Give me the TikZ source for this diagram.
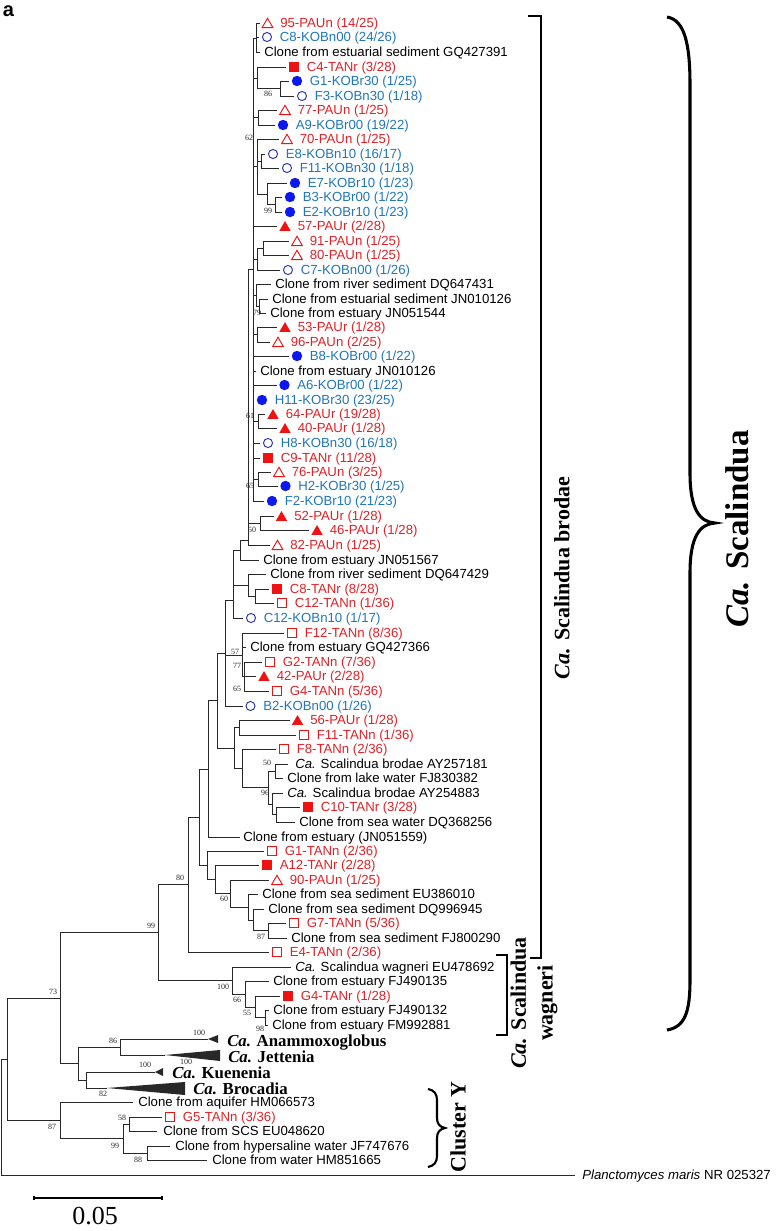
\documentclass[tikz,border=0pt]{standalone}
\usepackage{fontspec}
\setmainfont{Liberation Sans}
\newfontfamily\tms{Liberation Serif}
\usetikzlibrary{shapes.geometric}
\definecolor{tred}{RGB}{226,32,38}
\definecolor{sred}{RGB}{238,18,18}
\definecolor{tblue}{RGB}{32,118,186}
\definecolor{fblue}{RGB}{12,24,238}
\definecolor{oblue}{RGB}{36,46,176}
\definecolor{tline}{RGB}{40,40,40}
\tikzset{
 tree/.style={draw=tline, line width=0.6pt},
 lab/.style={anchor=base west, inner sep=0pt, font=\fontsize{9.9}{11}\selectfont},
 redlab/.style={text=tred},
 bluelab/.style={text=tblue},
 boot/.style={inner sep=0pt, text=tline, font=\tms\fontsize{6}{6}\selectfont},
 otri/.style={regular polygon, regular polygon sides=3, draw=sred, line width=0.7pt, minimum size=9.3pt, inner sep=0pt, yshift=-1.1pt},
 ftri/.style={regular polygon, regular polygon sides=3, fill=sred, minimum size=9.8pt, inner sep=0pt, yshift=-1.2pt},
 osq/.style={rectangle, draw=sred, line width=0.7pt, minimum size=6.4pt, inner sep=0pt},
 fsq/.style={rectangle, fill=sred, minimum size=7.2pt, inner sep=0pt},
 ocirc/.style={circle, draw=oblue, line width=0.7pt, minimum size=6.8pt, inner sep=0pt},
 fcirc/.style={circle, fill=fblue, minimum size=7.8pt, inner sep=0pt},
 genus/.style={anchor=base west, inner sep=0pt, font=\tms\bfseries\fontsize{12.6}{14}\selectfont},
 clab/.style={rotate=90, inner sep=0pt, font=\tms\bfseries\fontsize{16.5}{18}\selectfont},
 brk/.style={draw=black, line width=1.9pt},
}
\newcommand{\symleaf}[6]{%
  \coordinate (#1) at ({#2-8},#3);
  \node[#4] (#1s) at (#2,#3) {};
  \node[lab,#5] (#1t) at ({#2+12.5},{#3+4.7}) {#6};}
\newcommand{\txtleaf}[5]{%
  \coordinate (#1) at (#2,#4);
  \node[lab] (#1t) at (#3,{#4+4.7}) {#5};}
\newcommand{\br}[2]{\foreach \ch in {#2}{\draw[tree] (#1) |- (\ch);}}
\begin{document}
\begin{tikzpicture}[x=0.75pt,y=-0.75pt]
\useasboundingbox (0,0) rectangle (777,1231);
\node[inner sep=0pt, font=\bfseries\fontsize{15}{15}\selectfont] (lbla) at (8.5,11) {a};
% leaves
\symleaf{L1}{267.5}{23}{otri}{redlab}{95-PAUn (14/25)}
\symleaf{L2}{267}{37}{ocirc}{bluelab}{C8-KOBn00 (24/26)}
\txtleaf{L3}{260}{264}{52}{Clone from estuarial sediment GQ427391}
\symleaf{L4}{294}{67}{fsq}{redlab}{C4-TANr (3/28)}
\symleaf{L5}{297}{81}{fcirc}{bluelab}{G1-KOBr30 (1/25)}
\symleaf{L6}{302}{96}{ocirc}{bluelab}{F3-KOBn30 (1/18)}
\symleaf{L7}{285}{110}{otri}{redlab}{77-PAUn (1/25)}
\symleaf{L8}{283}{125}{fcirc}{bluelab}{A9-KOBr00 (19/22)}
\symleaf{L9}{287}{139}{otri}{redlab}{70-PAUn (1/25)}
\symleaf{L10}{273}{154}{ocirc}{bluelab}{E8-KOBn10 (16/17)}
\symleaf{L11}{287}{168}{ocirc}{bluelab}{F11-KOBn30 (1/18)}
\symleaf{L12}{295}{183}{fcirc}{bluelab}{E7-KOBr10 (1/23)}
\symleaf{L13}{290}{197}{fcirc}{bluelab}{B3-KOBr00 (1/22)}
\symleaf{L14}{290}{212}{fcirc}{bluelab}{E2-KOBr10 (1/23)}
\symleaf{L15}{285}{226}{ftri}{redlab}{57-PAUr (2/28)}
\symleaf{L16}{297}{241}{otri}{redlab}{91-PAUn (1/25)}
\symleaf{L17}{297}{255}{otri}{redlab}{80-PAUn (1/25)}
\symleaf{L18}{288}{270}{ocirc}{bluelab}{C7-KOBn00 (1/26)}
\txtleaf{L19}{271}{275}{284}{Clone from river sediment DQ647431}
\txtleaf{L20}{268}{272}{299}{Clone from estuarial sediment JN010126}
\txtleaf{L21}{266}{270}{313}{Clone from estuary JN051544}
\symleaf{L22}{285}{327}{ftri}{redlab}{53-PAUr (1/28)}
\symleaf{L23}{278}{342}{otri}{redlab}{96-PAUn (2/25)}
\symleaf{L24}{297}{356}{fcirc}{bluelab}{B8-KOBr00 (1/22)}
\txtleaf{L25}{256}{260}{371}{Clone from estuary JN010126}
\symleaf{L26}{284.5}{385}{fcirc}{bluelab}{A6-KOBr00 (1/22)}
\symleaf{L27}{262}{400}{fcirc}{bluelab}{H11-KOBr30 (23/25)}
\symleaf{L28}{273}{414}{ftri}{redlab}{64-PAUr (19/28)}
\symleaf{L29}{285}{428}{ftri}{redlab}{40-PAUr (1/28)}
\symleaf{L30}{268}{443}{ocirc}{bluelab}{H8-KOBn30 (16/18)}
\symleaf{L31}{268}{458}{fsq}{redlab}{C9-TANr (11/28)}
\symleaf{L32}{279}{472}{otri}{redlab}{76-PAUn (3/25)}
\symleaf{L33}{285.5}{486}{fcirc}{bluelab}{H2-KOBr30 (1/25)}
\symleaf{L34}{272}{501}{fcirc}{bluelab}{F2-KOBr10 (21/23)}
\symleaf{L35}{281.5}{516}{ftri}{redlab}{52-PAUr (1/28)}
\symleaf{L36}{317}{530}{ftri}{redlab}{46-PAUr (1/28)}
\symleaf{L37}{277.5}{545}{otri}{redlab}{82-PAUn (1/25)}
\txtleaf{L38}{259}{263}{560}{Clone from estuary JN051567}
\txtleaf{L39}{266}{270}{574}{Clone from river sediment DQ647429}
\symleaf{L40}{277}{589}{fsq}{redlab}{C8-TANr (8/28)}
\symleaf{L41}{282}{603}{osq}{redlab}{C12-TANn (1/36)}
\symleaf{L42}{251}{618}{ocirc}{bluelab}{C12-KOBn10 (1/17)}
\symleaf{L43}{292}{633}{osq}{redlab}{F12-TANn (8/36)}
\txtleaf{L44}{246}{250}{647}{Clone from estuary GQ427366}
\symleaf{L45}{270}{662}{osq}{redlab}{G2-TANn (7/36)}
\symleaf{L46}{264}{676}{ftri}{redlab}{42-PAUr (2/28)}
\symleaf{L47}{277}{691}{osq}{redlab}{G4-TANn (5/36)}
\symleaf{L48}{250.5}{706}{ocirc}{bluelab}{B2-KOBn00 (1/26)}
\symleaf{L49}{297.5}{720}{ftri}{redlab}{56-PAUr (1/28)}
\symleaf{L50}{304}{735}{osq}{redlab}{F11-TANn (1/36)}
\symleaf{L51}{284}{749}{osq}{redlab}{F8-TANn (2/36)}
\txtleaf{L52}{288}{295}{764}{\textit{Ca.} Scalindua brodae AY257181}
\txtleaf{L53}{283}{287}{778}{Clone from lake water FJ830382}
\txtleaf{L54}{283}{287}{793}{\textit{Ca.} Scalindua brodae AY254883}
\symleaf{L55}{308}{807}{fsq}{redlab}{C10-TANr (3/28)}
\txtleaf{L56}{295}{299}{822}{Clone from sea water DQ368256}
\txtleaf{L57}{240}{243}{837}{Clone from estuary (JN051559)}
\symleaf{L58}{272}{851}{osq}{redlab}{G1-TANn (2/36)}
\symleaf{L59}{267}{865}{fsq}{redlab}{A12-TANr (2/28)}
\symleaf{L60}{277}{880}{otri}{redlab}{90-PAUn (1/25)}
\txtleaf{L61}{258}{262}{894}{Clone from sea sediment EU386010}
\txtleaf{L62}{264}{268}{909}{Clone from sea sediment DQ996945}
\symleaf{L63}{294}{923}{osq}{redlab}{G7-TANn (5/36)}
\txtleaf{L64}{287}{291}{938}{Clone from sea sediment FJ800290}
\symleaf{L65}{277}{952}{osq}{redlab}{E4-TANn (2/36)}
\txtleaf{L66}{291}{295}{967}{\textit{Ca.} Scalindua wagneri EU478692}
\txtleaf{L67}{269}{273}{981}{Clone from estuary FJ490135}
\symleaf{L68}{288}{996}{fsq}{redlab}{G4-TANr (1/28)}
\txtleaf{L69}{269}{273}{1010}{Clone from estuary FJ490132}
\txtleaf{L70}{268}{272}{1025}{Clone from estuary FM992881}
\txtleaf{Y1}{133}{138}{1102}{Clone from aquifer HM066573}
\symleaf{Y2}{170}{1117}{osq}{redlab}{G5-TANn (3/36)}
\txtleaf{Y3}{157}{163}{1131}{Clone from SCS EU048620}
\txtleaf{Y4}{170}{175}{1146}{Clone from hypersaline water JF747676}
\txtleaf{Y5}{207}{212}{1160}{Clone from water HM851665}
\txtleaf{PM}{575}{582}{1175}{\textit{Planctomyces maris} NR 025327}
% collapsed genera
\coordinate (G1) at (208,1039);
\coordinate (G2) at (165,1055);
\coordinate (G3) at (155,1072);
\coordinate (G4) at (107,1088);
\fill[tline] (G1) -- (218,1035) -- (218,1043) -- cycle;
\fill[tline] (G2) -- (220,1050) -- (220,1061) -- cycle;
\fill[tline] (G3) -- (163,1068) -- (163,1076) -- cycle;
\fill[tline] (G4) -- (185,1082) -- (185,1095) -- cycle;
\node[genus] (G1t) at (227,1046) {\textit{Ca.} Anammoxoglobus};
\node[genus] (G2t) at (228,1062.5) {\textit{Ca.} Jettenia};
\node[genus] (G3t) at (172,1078.5) {\textit{Ca.} Kuenenia};
\node[genus] (G4t) at (193,1094.5) {\textit{Ca.} Brocadia};
% internal nodes
\coordinate (s1) at (256,38);
\coordinate (s3) at (280,88.5);
\coordinate (s2) at (257,78);
\coordinate (s4) at (258,117.5);
\coordinate (s8) at (275,204.5);
\coordinate (s7) at (267,194);
\coordinate (s6) at (261,161);
\coordinate (s5) at (257,166);
\coordinate (s10) at (263,248);
\coordinate (s9) at (257,259);
\coordinate (s12) at (259,306);
\coordinate (s11) at (256,295);
\coordinate (s13) at (257,334.5);
\coordinate (s14) at (258,421);
\coordinate (s15) at (258,479);
\coordinate (S) at (253,269.5);
\coordinate (s16) at (260,523);
\coordinate (c0) at (248,540);
\coordinate (g0) at (240,550);
\coordinate (g1b) at (255,596);
\coordinate (g1) at (248,585);
\coordinate (d0) at (233,600);
\coordinate (f1) at (244,676.5);
\coordinate (f0) at (242,655);
\coordinate (e0) at (225,653);
\coordinate (h1) at (239,727.5);
\coordinate (i0) at (275,771);
\coordinate (i2) at (276,814.5);
\coordinate (i1) at (272,804);
\coordinate (i3) at (268,787.5);
\coordinate (h3) at (242,768);
\coordinate (h2) at (234,748);
\coordinate (k3) at (217,700.5);
\coordinate (k2) at (208,769);
\coordinate (j1) at (268,930.5);
\coordinate (j0b) at (253,920);
\coordinate (j0) at (248,907);
\coordinate (k7) at (230,893.5);
\coordinate (k6) at (215,879);
\coordinate (k5) at (207,865);
\coordinate (k1) at (199,817);
\coordinate (k0) at (188,884.5);
\coordinate (wa3) at (265,1017.5);
\coordinate (wa2) at (255,1007);
\coordinate (wa1) at (245,994);
\coordinate (wag) at (232,980.5);
\coordinate (w0) at (158,932.5);
\coordinate (an1) at (120,1047);
\coordinate (an2) at (86,1080);
\coordinate (an) at (78,1063.5);
\coordinate (n73) at (60,998);
\coordinate (cy2) at (129,1124);
\coordinate (cy3) at (147,1153);
\coordinate (cy1) at (123,1138.5);
\coordinate (CY) at (60,1120);
\coordinate (n7) at (7,1059);
\coordinate (root) at (1,1117);
% branches
\br{s1}{L1,L2,L3}
\br{s3}{L5,L6}
\br{s2}{L4,s3}
\br{s4}{L7,L8}
\br{s8}{L13,L14}
\br{s7}{L12,s8}
\br{s6}{L10,L11}
\br{s5}{L9,s6,s7}
\br{s10}{L16,L17}
\br{s9}{s10,L18}
\br{s12}{L20,L21}
\br{s11}{L19,s12}
\br{s13}{L22,L23}
\br{s14}{L28,L29}
\br{s15}{L32,L33}
\br{S}{s1,s2,s4,s5,L15,s9,s11,s13,L24,L25,L26,L27,s14,L30,L31,s15,L34}
\br{s16}{L35,L36}
\br{c0}{S,s16,L37}
\br{g0}{c0,L38}
\br{g1b}{L40,L41}
\br{g1}{L39,g1b}
\br{d0}{g0,g1,L42}
\br{f1}{L45,L46,L47}
\br{f0}{L43,L44,f1}
\br{e0}{d0,f0,L48}
\br{h1}{L49,L50}
\br{i0}{L52,L53}
\br{i2}{L55,L56}
\br{i1}{L54,i2}
\br{i3}{i0,i1}
\br{h3}{L51,i3}
\br{h2}{h1,h3}
\br{k3}{e0,h2}
\br{k2}{k3,L57}
\br{j1}{L63,L64}
\br{j0b}{L62,j1}
\br{j0}{L61,j0b}
\br{k7}{L60,j0}
\br{k6}{L59,k7}
\br{k5}{L58,k6}
\br{k1}{k2,k5}
\br{k0}{k1,L65}
\br{wa3}{L69,L70}
\br{wa2}{L68,wa3}
\br{wa1}{L67,wa2}
\br{wag}{L66,wa1}
\br{w0}{k0,wag}
\br{an1}{G1,G2}
\br{an2}{G3,G4}
\br{an}{an1,an2}
\br{n73}{w0,an}
\br{cy2}{Y2,Y3}
\br{cy3}{Y4,Y5}
\br{cy1}{cy2,cy3}
\br{CY}{Y1,cy1}
\br{n7}{n73,CY}
\br{root}{n7,PM}
% bootstrap values
\node[boot] (b1) at (268,94) {86};
\node[boot] (b2) at (249,138) {62};
\node[boot] (b3) at (268,211) {99};
\node[boot] (b4) at (257,313) {79};
\node[boot] (b5) at (250,416) {61};
\node[boot] (b6) at (250,486) {65};
\node[boot] (b7) at (252,530) {50};
\node[boot] (b8) at (235,652) {57};
\node[boot] (b9) at (237,666) {77};
\node[boot] (b10) at (237,689) {65};
\node[boot] (b11) at (267,763) {50};
\node[boot] (b12) at (265,793) {96};
\node[boot] (b13) at (180,878) {80};
\node[boot] (b14) at (224,899) {60};
\node[boot] (b15) at (261,937) {87};
\node[boot] (b16) at (151,926) {99};
\node[boot] (b17) at (223,987) {100};
\node[boot] (b18) at (237,1000) {66};
\node[boot] (b19) at (247,1013) {55};
\node[boot] (b20) at (260,1029) {98};
\node[boot] (b21) at (53,992) {73};
\node[boot] (b22) at (113,1041) {86};
\node[boot] (b23) at (199,1033) {100};
\node[boot] (b24) at (186,1062) {100};
\node[boot] (b25) at (145,1065) {100};
\node[boot] (b26) at (103,1094) {82};
\node[boot] (b27) at (52,1127) {87};
\node[boot] (b28) at (122,1118) {58};
\node[boot] (b29) at (115,1146) {99};
\node[boot] (b30) at (138,1160) {88};
% scale bar
\coordinate (sb1) at (34,1198);
\coordinate (sb2) at (162,1198);
\draw[line width=0.8pt] ([yshift=1.6pt]sb1) -- ([yshift=-1.6pt]sb1);
\draw[line width=0.8pt] ([yshift=1.6pt]sb2) -- ([yshift=-1.6pt]sb2);
\draw[line width=0.8pt] (sb1) -- (sb2);
\node[inner sep=0pt, font=\tms\fontsize{19.5}{20}\selectfont] (sbl) at (95,1216) {0.05};
% brackets
\coordinate (bb1) at (528,16);
\coordinate (bb2) at (541,16);
\coordinate (bb3) at (541,958);
\coordinate (bb4) at (530,958);
\draw[brk] (bb1) -- (bb2) -- (bb3) -- (bb4);
\node[clab] (brodae) at (562,578) {\textit{Ca.} Scalindua brodae};
\coordinate (wb1) at (496,955);
\coordinate (wb2) at (507,955);
\coordinate (wb3) at (507,1035);
\coordinate (wb4) at (496,1035);
\draw[brk] (wb1) -- (wb2) -- (wb3) -- (wb4);
\node[clab] (wag1) at (518.5,1003) {\textit{Ca.} Scalindua};
\node[clab] (wag2) at (547.5,1003) {wagneri};
% big brace
\draw[line width=2.3pt] (667,17) .. controls (685,20) and (690,45) .. (690,85) -- (690,473)
  .. controls (690,510) and (700,522) .. (715,523)
  .. controls (700,524) and (690,536) .. (690,573) -- (690,980)
  .. controls (690,1012) and (685,1027) .. (667,1030);
\node[rotate=90, inner sep=0pt, font=\tms\bfseries\fontsize{24.75}{26}\selectfont] (scal) at (737,529) {\textit{Ca.} Scalindua};
% cluster Y brace
\draw[line width=1.6pt] (428,1089) .. controls (434,1090) and (437,1094) .. (437,1100) -- (437,1118)
  .. controls (437,1124) and (440,1127) .. (445,1128)
  .. controls (440,1129) and (437,1132) .. (437,1138) -- (437,1156)
  .. controls (437,1162) and (434,1166) .. (428,1167);
\node[clab] (cly) at (458,1127) {Cluster Y};
\end{tikzpicture}
\end{document}
